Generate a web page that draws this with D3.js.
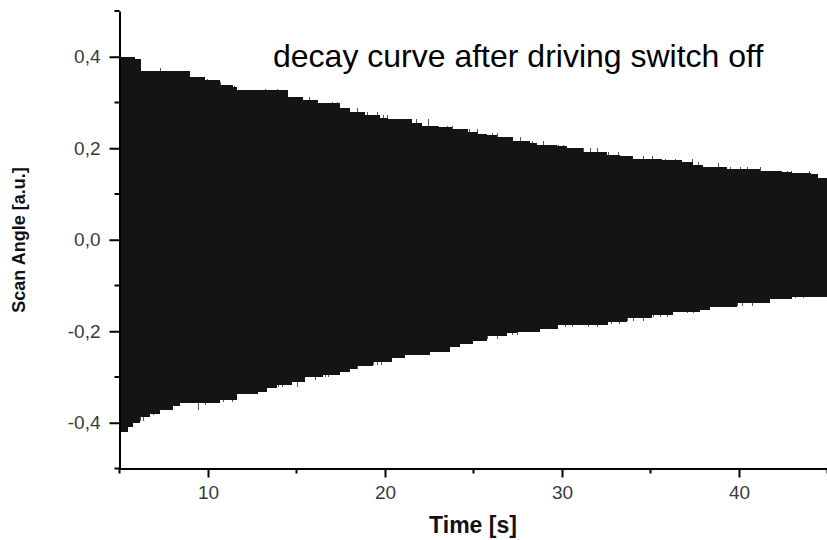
<!DOCTYPE html>
<html>
<head>
<meta charset="utf-8">
<script src="https://cdn.jsdelivr.net/npm/d3@7"></script>
<style>
  body { margin: 0; background: #fff; }
  svg { display: block; }
  .tick text { font-family: "Liberation Sans", Arial, sans-serif; }
</style>
</head>
<body>
<div class="graph"></div>
<script>
//chart size
let svgWidth = 827
let svgHeight = 540

//axis ticks
let xMajorTicks = [10, 20, 30, 40]
let xMinorTicks = [5, 15, 25, 35, 45]
let yMajorTicks = [-0.4, -0.2, 0.0, 0.2, 0.4]
let yMinorTicks = [-0.5, -0.3, -0.1, 0.1, 0.3, 0.5]

//upper envelope of the decay (time s, angle a.u.), step wise
let topTime = [5.0, 5.86, 6.2, 8.97, 9.82, 10.67, 11.4, 11.63, 14.51, 15.36, 16.2, 17.45, 18.0, 18.86, 19.71, 20.17, 21.52, 22.09, 22.99, 23.78, 24.69, 25.26, 25.76, 26.33, 27.23, 28.19, 28.59, 29.72, 30.28, 31.19, 32.55, 33.28, 34.02, 35.66, 36.79, 37.41, 37.98, 39.34, 41.2, 42.45, 43.02, 44.04, 44.49, 45.0]
let topValue = [0.399, 0.395, 0.369, 0.356, 0.349, 0.338, 0.334, 0.327, 0.312, 0.306, 0.299, 0.288, 0.279, 0.273, 0.266, 0.264, 0.255, 0.249, 0.246, 0.242, 0.235, 0.231, 0.229, 0.224, 0.216, 0.211, 0.207, 0.205, 0.200, 0.192, 0.185, 0.183, 0.176, 0.174, 0.170, 0.163, 0.159, 0.155, 0.150, 0.148, 0.146, 0.144, 0.135, 0.135]

//lower envelope
let bottomTime = [5.0, 5.47, 5.75, 6.14, 6.71, 7.27, 8.01, 8.41, 10.67, 11.63, 12.82, 13.33, 13.89, 14.74, 15.47, 16.49, 17.45, 18.02, 18.41, 19.32, 20.39, 21.13, 22.54, 23.67, 24.24, 24.98, 25.77, 26.9, 27.46, 28.76, 29.78, 32.6, 33.68, 35.09, 36.28, 37.8, 38.37, 39.9, 41.77, 43.01, 45.0]
let bottomValue = [-0.420, -0.409, -0.401, -0.388, -0.381, -0.372, -0.364, -0.357, -0.350, -0.337, -0.332, -0.324, -0.318, -0.311, -0.300, -0.296, -0.289, -0.283, -0.276, -0.267, -0.258, -0.252, -0.245, -0.234, -0.228, -0.221, -0.210, -0.204, -0.202, -0.195, -0.186, -0.180, -0.171, -0.165, -0.158, -0.153, -0.147, -0.138, -0.130, -0.125, -0.125]

//single peaks sticking out of the envelope
let topSpikeTime = [7.28, 9.93, 10.5, 10.67, 11.46, 13.21, 13.89, 14.23, 15.7, 16.04, 17.0, 17.28, 18.41, 18.98, 19.54, 19.88, 20.11, 20.79, 21.75, 22.43, 22.99, 23.5, 23.78, 24.75, 25.2, 26.04, 26.33, 27.63, 28.31, 28.93, 29.78, 30.06, 31.19, 31.59, 31.98, 32.6, 33.17, 34.58, 35.09, 35.83, 36.39, 37.35, 37.69, 38.82, 39.5, 40.06, 40.46, 41.19, 42.72, 42.95, 43.97, 44.98]
let topSpikeValue = [0.375, 0.351, 0.345, 0.345, 0.336, 0.329, 0.329, 0.327, 0.312, 0.303, 0.301, 0.301, 0.288, 0.279, 0.279, 0.273, 0.273, 0.264, 0.264, 0.264, 0.249, 0.249, 0.249, 0.242, 0.242, 0.233, 0.233, 0.225, 0.216, 0.216, 0.207, 0.207, 0.200, 0.200, 0.200, 0.192, 0.192, 0.183, 0.183, 0.176, 0.176, 0.176, 0.170, 0.168, 0.159, 0.159, 0.159, 0.159, 0.150, 0.150, 0.150, 0.146]
let bottomSpikeTime = [6.15, 6.32, 6.88, 7.73, 7.96, 9.43, 9.82, 10.84, 11.35, 13.95, 14.17, 15.02, 16.04, 16.61, 16.78, 17.91, 18.41, 19.32, 19.55, 19.77, 20.28, 21.75, 22.09, 22.37, 23.28, 23.56, 23.84, 24.18, 25.76, 26.33, 27.18, 27.46, 28.03, 28.65, 29.33, 30.18, 30.57, 31.48, 31.98, 32.77, 33.23, 33.68, 34.02, 34.58, 35.15, 35.54, 35.94, 37.07, 37.41, 38.26, 39.9, 40.18, 40.74, 41.42, 41.93, 43.17, 43.62, 44.64]
let bottomSpikeValue = [-0.397, -0.397, -0.384, -0.372, -0.372, -0.372, -0.361, -0.355, -0.355, -0.322, -0.322, -0.322, -0.307, -0.300, -0.300, -0.289, -0.283, -0.274, -0.274, -0.274, -0.267, -0.250, -0.250, -0.250, -0.243, -0.243, -0.234, -0.234, -0.217, -0.217, -0.208, -0.208, -0.202, -0.202, -0.191, -0.191, -0.191, -0.191, -0.191, -0.184, -0.184, -0.178, -0.178, -0.178, -0.169, -0.169, -0.169, -0.160, -0.160, -0.151, -0.145, -0.145, -0.145, -0.138, -0.130, -0.127, -0.127, -0.120]

let svg = d3.select('.graph')
    .append('svg')
    .attr('width', svgWidth)
    .attr('height', svgHeight)

// scales
let xScale = d3.scaleLinear()
    .domain([5, 45])
    .range([119.5, 827.5])
let yScale = d3.scaleLinear()
    .domain([-0.5, 0.5])
    .range([468.5, 11])

// comma decimals and a plain hyphen for minus, as in the original plot
let fmt = d => d3.format('.1f')(d).replace('.', ',').replace('\u2212', '-')

// spikes first, the filled envelope covers their inner part
let spikes = svg.append('g')
    .attr('stroke', '#555')
    .attr('stroke-width', 1)
    .attr('shape-rendering', 'crispEdges')
topSpikeTime.forEach((t, i) => {
    spikes.append('line')
        .attr('x1', Math.round(xScale(t)) + 0.5).attr('x2', Math.round(xScale(t)) + 0.5)
        .attr('y1', yScale(0)).attr('y2', yScale(topSpikeValue[i]))
})
bottomSpikeTime.forEach((t, i) => {
    spikes.append('line')
        .attr('x1', Math.round(xScale(t)) + 0.5).attr('x2', Math.round(xScale(t)) + 0.5)
        .attr('y1', yScale(0)).attr('y2', yScale(bottomSpikeValue[i]))
})

// envelope areas
let topData = topTime.map((t, i) => ({t: t, v: topValue[i]}))
let bottomData = bottomTime.map((t, i) => ({t: t, v: bottomValue[i]}))

let area = d3.area()
    .x(d => xScale(d.t))
    .y1(d => yScale(d.v))
    .curve(d3.curveStepAfter)

svg.append('path')
    .attr('d', area.y0(yScale(-0.02))(topData))
    .attr('fill', '#141414')
    .attr('shape-rendering', 'crispEdges')
svg.append('path')
    .attr('d', area.y0(yScale(0.02))(bottomData))
    .attr('fill', '#141414')
    .attr('shape-rendering', 'crispEdges')

// axes
let xAxis = svg.append('g')
    .attr('transform', `translate(0,${yScale(-0.5)})`)
    .call(d3.axisBottom(xScale).tickValues(xMajorTicks).tickSize(9).tickPadding(8).tickSizeOuter(0))
xAxis.selectAll('.tick text')
    .attr('font-size', 19)
    .attr('fill', '#3a3a3a')
xAxis.append('g').selectAll('line')
    .data(xMinorTicks)
    .join('line')
    .attr('x1', d => xScale(d)).attr('x2', d => xScale(d))
    .attr('y1', 0).attr('y2', 5)
    .attr('stroke', '#000')

let yAxis = svg.append('g')
    .attr('transform', `translate(${xScale(5)},0)`)
    .call(d3.axisLeft(yScale).tickValues(yMajorTicks).tickFormat(fmt).tickSize(10).tickPadding(9).tickSizeOuter(0))
yAxis.selectAll('.tick text')
    .attr('font-size', 19)
    .attr('fill', '#3a3a3a')
yAxis.append('g').selectAll('line')
    .data(yMinorTicks)
    .join('line')
    .attr('x1', 0).attr('x2', -5)
    .attr('y1', d => yScale(d)).attr('y2', d => yScale(d))
    .attr('stroke', '#000')

svg.selectAll('.domain, .tick line, g g line')
    .attr('stroke', '#000')
    .attr('stroke-width', 2)

// labels
svg.append('text')
    .attr('x', 473)
    .attr('y', 533)
    .attr('text-anchor', 'middle')
    .attr('font-family', '"Liberation Sans", Arial, sans-serif')
    .attr('font-weight', 'bold')
    .attr('font-size', 23)
    .attr('fill', '#111')
    .text('Time [s]')

svg.append('text')
    .attr('transform', 'translate(25,240) rotate(-90)')
    .attr('text-anchor', 'middle')
    .attr('font-family', '"Liberation Sans", Arial, sans-serif')
    .attr('font-weight', 'bold')
    .attr('font-size', 18)
    .attr('fill', '#111')
    .text('Scan Angle [a.u.]')

svg.append('text')
    .attr('x', 273)
    .attr('y', 67)
    .attr('font-family', '"Liberation Sans", Arial, sans-serif')
    .attr('font-size', 32)
    .attr('fill', '#000')
    .text('decay curve after driving switch off')
</script>
</body>
</html>
